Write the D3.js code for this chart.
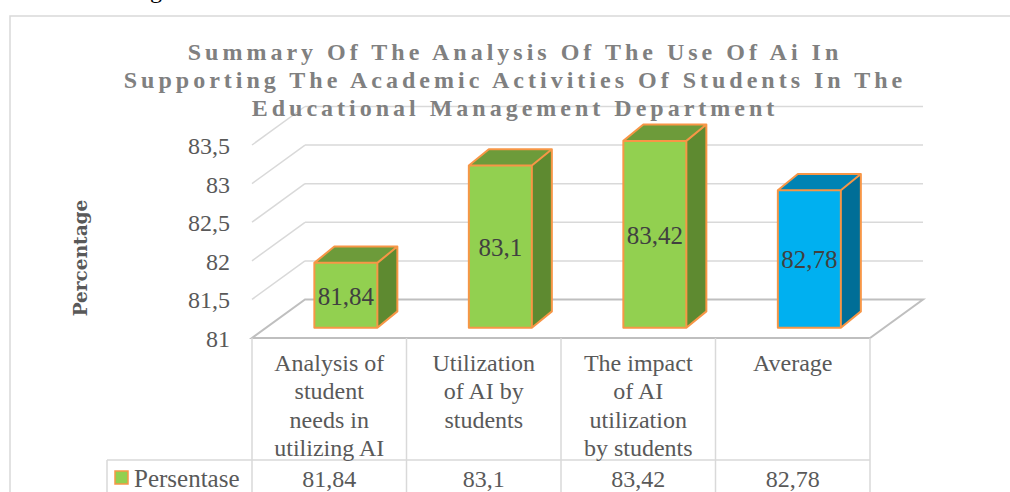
<!DOCTYPE html>
<html>
<head>
<meta charset="utf-8">
<script src="https://cdn.jsdelivr.net/npm/d3@7"></script>
<style>
  html, body { margin: 0; padding: 0; background: #fff; overflow: hidden; }
  svg { display: block; }
</style>
</head>
<body>
<div id="chart"></div>
<script>
// data
const categories = [
    "Analysis of student needs in utilizing AI",
    "Utilization of AI by students",
    "The impact of AI utilization by students",
    "Average"
];
const values = [81.84, 83.1, 83.42, 82.78];
const seriesName = "Persentase";
const yTicks = [81, 81.5, 82, 82.5, 83, 83.5];
const titleLines = [
    "Summary Of The Analysis Of The Use Of Ai In",
    "Supporting The Academic Activities Of Students In The",
    "Educational Management Department"
];
const axisTitle = "Percentage";

const W = 1010, H = 492;
const serif = "'Liberation Serif', 'Times New Roman', serif";
const gridColor = "#d9d9d9";
const floorColor = "#bfbfbf";
const textColor = "#595959";

// comma as decimal separator, like the source
const fmt = v => String(v).replace(".", ",");

const svg = d3.select("#chart").append("svg")
    .attr("width", W)
    .attr("height", H);

// scales (front plane of the floor)
const x = d3.scaleBand().domain(categories).range([252, 870]);
const y = d3.scaleLinear().domain([81, 83.5]).range([338, 145]);

// oblique depth of the 3D box
const depth = { dx: 53, dy: -38.5 };
const barDepth = { dx: 20, dy: -16.3 };
const barFront = { dx: 16.6, dy: -10.3 };
const barW = 63;

// chart frame
svg.append("rect")
    .attr("x", 10).attr("y", 16)
    .attr("width", W + 50).attr("height", H + 50)
    .attr("fill", "none")
    .attr("stroke", gridColor)
    .attr("stroke-width", 1.5);

// bit of document text above the chart
svg.append("text")
    .attr("x", 150).attr("y", -2)
    .style("font-family", serif)
    .style("font-size", "24px")
    .attr("fill", "#000")
    .text("g");

const [x0, x1] = x.range();

// back wall + left wall gridlines
const grid = svg.append("g");
yTicks.filter(t => t > 81).forEach(t => {
    grid.append("line")
        .attr("x1", x0 + depth.dx).attr("y1", y(t) + depth.dy)
        .attr("x2", x1 + depth.dx).attr("y2", y(t) + depth.dy)
        .attr("stroke", gridColor).attr("stroke-width", 1.5);
    grid.append("line")
        .attr("x1", x0).attr("y1", y(t))
        .attr("x2", x0 + depth.dx).attr("y2", y(t) + depth.dy)
        .attr("stroke", gridColor).attr("stroke-width", 1.5);
});

// floor
const y0 = y(81);
svg.append("path")
    .attr("d", `M${x0},${y0}L${x1},${y0}L${x1 + depth.dx},${y0 + depth.dy}L${x0 + depth.dx},${y0 + depth.dy}Z`)
    .attr("fill", "none")
    .attr("stroke", floorColor)
    .attr("stroke-width", 2);

// tick labels
svg.append("g").selectAll("text")
    .data(yTicks)
    .enter().append("text")
    .attr("x", 230)
    .attr("y", d => y(d) + 1)
    .attr("text-anchor", "end")
    .attr("dominant-baseline", "central")
    .style("font-family", serif)
    .style("font-size", "24px")
    .attr("fill", textColor)
    .text(fmt);

// data table under the floor
const table = svg.append("g")
    .attr("stroke", gridColor)
    .attr("stroke-width", 1.5);
const rowSplit = 460;
x.domain().forEach(c => {
    table.append("line")
        .attr("x1", x(c)).attr("y1", y0)
        .attr("x2", x(c)).attr("y2", H + 5);
});
table.append("line")
    .attr("x1", x1).attr("y1", y0)
    .attr("x2", x1).attr("y2", H + 5);
table.append("line")
    .attr("x1", 107).attr("y1", rowSplit)
    .attr("x2", x1).attr("y2", rowSplit);
table.append("line")
    .attr("x1", 107).attr("y1", rowSplit)
    .attr("x2", 107).attr("y2", H + 5);

// header cells, wrapped to column width
const header = svg.append("g").selectAll("text")
    .data(categories)
    .enter().append("text")
    .attr("text-anchor", "middle")
    .style("font-family", serif)
    .style("font-size", "24px")
    .attr("fill", textColor);

header.each(function(c) {
    const el = d3.select(this);
    const words = c.split(" ");
    const lines = [];
    let line = [];
    const probe = el.append("tspan");
    words.forEach(w => {
        line.push(w);
        probe.text(line.join(" "));
        if (probe.node().getComputedTextLength() > 125 && line.length > 1) {
            line.pop();
            lines.push(line.join(" "));
            line = [w];
        }
    });
    lines.push(line.join(" "));
    probe.remove();
    lines.forEach((l, i) => {
        el.append("tspan")
            .attr("x", x(c) + x.bandwidth() / 2)
            .attr("y", 371 + i * 28.3)
            .text(l);
    });
});

// value row
svg.append("g").selectAll("text")
    .data(values)
    .enter().append("text")
    .attr("x", (d, i) => x(categories[i]) + x.bandwidth() / 2)
    .attr("y", 487)
    .attr("text-anchor", "middle")
    .style("font-family", serif)
    .style("font-size", "24px")
    .attr("fill", textColor)
    .text(fmt);

// legend key in the table
svg.append("rect")
    .attr("x", 115).attr("y", 471)
    .attr("width", 13).attr("height", 13)
    .attr("fill", "#92d050")
    .attr("stroke", "#f79646")
    .attr("stroke-width", 1.5);
svg.append("text")
    .attr("x", 134).attr("y", 487)
    .style("font-family", serif)
    .style("font-size", "25px")
    .attr("fill", textColor)
    .text(seriesName);

// 3D bars
const palette = {
    green: { front: "#92d050", top: "#6d9b3a", side: "#5e8a30" },
    blue: { front: "#00b0f0", top: "#0083b4", side: "#006e97" }
};

const bars = svg.append("g").selectAll("g")
    .data(values)
    .enter().append("g");

bars.each(function(v, i) {
    const c = categories[i];
    const col = c === "Average" ? palette.blue : palette.green;
    const g = d3.select(this);
    const left = x(c) + x.bandwidth() / 2 - barW / 2 + barFront.dx;
    const right = left + barW;
    const top = y(v) + barFront.dy;
    const bottom = y(81) + barFront.dy;
    const dx = barDepth.dx, dy = barDepth.dy;

    g.append("path")
        .attr("d", `M${left},${top}L${right},${top}L${right + dx},${top + dy}L${left + dx},${top + dy}Z`)
        .attr("fill", col.top);
    g.append("path")
        .attr("d", `M${right},${top}L${right + dx},${top + dy}L${right + dx},${bottom + dy}L${right},${bottom}Z`)
        .attr("fill", col.side);
    g.append("rect")
        .attr("x", left).attr("y", top)
        .attr("width", barW).attr("height", bottom - top)
        .attr("fill", col.front);
    // orange outline over the whole block
    g.append("path")
        .attr("d", `M${left},${bottom}L${left},${top}L${left + dx},${top + dy}L${right + dx},${top + dy}L${right + dx},${bottom + dy}L${right},${bottom}Z` +
                   `M${left},${top}L${right},${top}L${right + dx},${top + dy}M${right},${top}L${right},${bottom}L${left},${bottom}`)
        .attr("fill", "none")
        .attr("stroke", "#f79646")
        .attr("stroke-width", 2)
        .attr("stroke-linejoin", "round");

    g.append("text")
        .attr("x", left + barW / 2)
        .attr("y", (top + bottom) / 2 + 1)
        .attr("text-anchor", "middle")
        .attr("dominant-baseline", "central")
        .style("font-family", serif)
        .style("font-size", "25px")
        .attr("fill", "#404040")
        .text(fmt(v));
});

// title
svg.append("g").selectAll("text")
    .data(titleLines)
    .enter().append("text")
    .attr("x", 515)
    .attr("y", (d, i) => 60 + i * 28)
    .attr("text-anchor", "middle")
    .style("font-family", serif)
    .style("font-size", "24px")
    .style("font-weight", "bold")
    .style("letter-spacing", "4px")
    .attr("fill", "#808080")
    .text(d => d);

// vertical axis title
svg.append("text")
    .attr("transform", "translate(87,258) rotate(-90)")
    .attr("text-anchor", "middle")
    .style("font-family", "'DejaVu Serif', serif")
    .style("font-size", "18.5px")
    .style("font-weight", "bold")
    .attr("fill", textColor)
    .text(axisTitle);
</script>
</body>
</html>
